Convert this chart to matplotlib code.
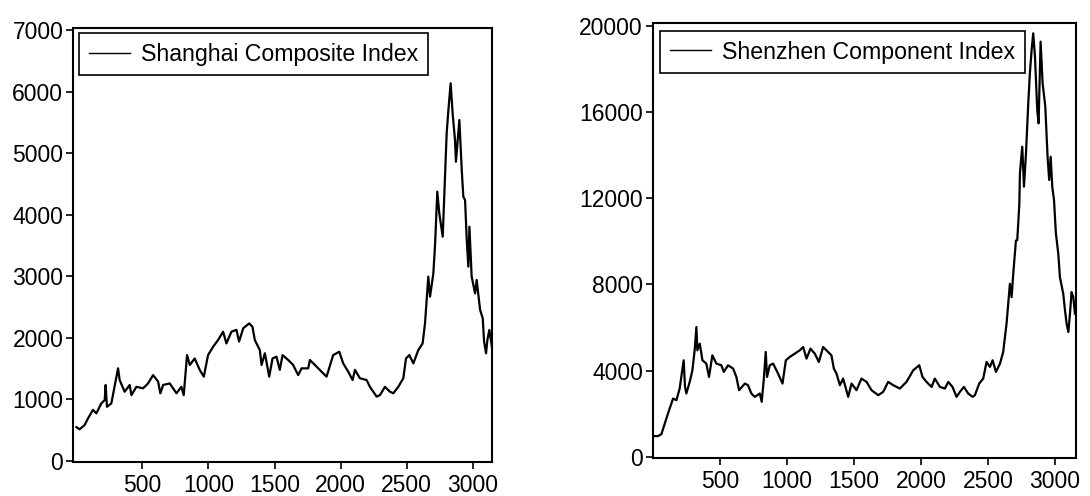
import matplotlib
matplotlib.use("Agg")
import matplotlib.pyplot as plt

plt.rcParams['font.family'] = ['Liberation Sans', 'DejaVu Sans']

# Shanghai Composite Index (observation number, index level)
sh_obs = [1, 25, 63, 88, 126, 152, 189, 215, 222, 232, 265, 316, 328, 366, 404, 417,
          455, 505, 543, 581, 619, 636, 657, 707, 758, 795, 813, 838, 859, 896, 934,
          965, 997, 1035, 1073, 1111, 1136, 1174, 1212, 1232, 1263, 1308, 1333, 1351,
          1389, 1402, 1427, 1460, 1485, 1515, 1540, 1561, 1604, 1641, 1679, 1705, 1755,
          1768, 1806, 1856, 1894, 1944, 1990, 2020, 2058, 2091, 2109, 2146, 2197, 2222,
          2273, 2298, 2336, 2374, 2399, 2437, 2475, 2495, 2520, 2551, 2588, 2621, 2639,
          2664, 2677, 2702, 2715, 2732, 2747, 2773, 2803, 2816, 2833, 2848, 2866, 2873,
          2899, 2917, 2929, 2942, 2955, 2967, 2975, 2992, 3018, 3030, 3056, 3076, 3086,
          3101, 3111, 3126, 3145]
sh_val = [550, 515, 585, 690, 830, 775, 935, 990, 1235, 880, 935, 1505, 1315, 1125, 1235, 1070,
          1205, 1180, 1260, 1395, 1290, 1100, 1235, 1260, 1100, 1205, 1070, 1720, 1560, 1665, 1480,
          1370, 1720, 1855, 1965, 2100, 1910, 2100, 2130, 1940, 2155, 2235, 2180, 1965,
          1800, 1560, 1750, 1370, 1665, 1695, 1480, 1720, 1640, 1560, 1395, 1505, 1505,
          1640, 1560, 1450, 1370, 1720, 1775, 1585, 1450, 1315, 1480, 1345, 1315, 1205,
          1045, 1070, 1205, 1125, 1100, 1205, 1345, 1665, 1720, 1585, 1800, 1910, 2235,
          2995, 2670, 3045, 3508, 4374, 4025, 3643, 5327, 5700, 6134, 5647, 5213, 4861,
          5538, 4726, 4292, 4239, 3590, 3156, 3805, 2995, 2723, 2940, 2453, 2317, 1938,
          1749, 1965, 2128, 1857]

# Shenzhen Component Index (observation number, index level)
sz_obs = [10, 40, 65, 90, 114, 139, 152, 177, 201, 231, 241, 251, 276, 296, 313, 326,
          333, 351, 371, 400, 420, 445, 475, 512, 530, 562, 600, 624, 644, 687, 711, 736,
          761, 799, 813, 828, 843, 853, 873, 898, 935, 968, 993, 1022, 1060, 1097, 1122,
          1147, 1177, 1209, 1239, 1271, 1296, 1333, 1351, 1371, 1396, 1420, 1458, 1483,
          1520, 1557, 1595, 1632, 1682, 1719, 1756, 1794, 1843, 1893, 1943, 1988, 2012,
          2042, 2080, 2104, 2142, 2179, 2204, 2236, 2266, 2291, 2321, 2353, 2386, 2403,
          2435, 2465, 2490, 2515, 2535, 2560, 2590, 2614, 2639, 2664, 2677, 2689, 2709,
          2719, 2734, 2739, 2756, 2769, 2784, 2801, 2813, 2826, 2838, 2851, 2868, 2878,
          2888, 2893, 2908, 2928, 2945, 2957, 2968, 2980, 2993, 3007, 3025, 3037, 3062,
          3075, 3087, 3100, 3112, 3124, 3137, 3149]
sz_val = [957, 957, 1050, 1544, 2007, 2470, 2702, 2625, 3165, 4478, 3242, 2934, 3474, 4014, 4941, 6022,
          4941, 5250, 4478, 4323, 3706, 4709, 4323, 4246, 3937, 4246, 4092, 3706, 3088, 3397, 3320, 2934,
          2779, 2934, 2548, 3551, 4864, 3706, 4246, 4323, 3860, 3397, 4478, 4632, 4786, 4941, 5095,
          4555, 5018, 4786, 4400, 5095, 4941, 4709, 4092, 3860, 3320, 3628, 2779, 3397,
          3088, 3628, 3474, 3088, 2856, 3011, 3474, 3320, 3165, 3474, 4014, 4246, 3706,
          3474, 3242, 3628, 3242, 3165, 3474, 3242, 2779, 3011, 3242, 2934, 2779, 2856,
          3397, 3628, 4400, 4169, 4478, 3937, 4323, 4864, 6176, 8029, 7411, 8492, 10036,
          10063, 11690, 13175, 14397, 12539, 14091, 16412, 17805, 18886, 19662, 18576, 16100, 15482,
          18112, 19275, 17340, 16256, 13930, 12850, 13930, 12540, 11921, 10374, 9418, 8338, 7566,
          6794, 6176, 5790, 6639, 7643, 7411, 6639]

sh_label = "Shanghai Composite Index"
sz_label = "Shenzhen Component Index"
sh_yticks = [0, 1000, 2000, 3000, 4000, 5000, 6000, 7000]
sz_yticks = [0, 4000, 8000, 12000, 16000, 20000]
xticks = [500, 1000, 1500, 2000, 2500, 3000]

fig = plt.figure(figsize=(10.9, 4.96), dpi=100)
ax1 = fig.add_axes([73/1090, 1-462/496, (492-73)/1090, (462-28)/496])
ax2 = fig.add_axes([652.7/1090, 1-458/496, (1076-652.7)/1090, (458-23)/496])

def style(ax, obs, val, label, yticks, xlim, ylim, leg_anchor):
    ax.plot(obs, val, color='black', linewidth=1.6, label=label)
    ax.set_xlim(*xlim)
    ax.set_ylim(*ylim)
    ax.set_yticks(yticks)
    ax.set_xticks(xticks)
    ax.tick_params(axis='both', direction='out', length=5, width=1.2, labelsize=16.5,
                   pad=2, colors='black')
    ax.tick_params(axis='x', pad=4)
    for s in ax.spines.values():
        s.set_linewidth(1.5)
        s.set_color('black')
    leg = ax.legend(loc='upper left', bbox_to_anchor=leg_anchor, borderaxespad=0,
                    fancybox=False, edgecolor='black', framealpha=1, fontsize=16.7,
                    handlelength=1.8, handletextpad=0.45, borderpad=0.42)
    leg.get_frame().set_linewidth(1.2)
    for h in leg.get_lines():
        h.set_linewidth(1.0)

style(ax1, sh_obs, sh_val, sh_label, sh_yticks, (-25, 3146), (-16, 7032), (0.0143, 0.9885))
style(ax2, sz_obs, sz_val, sz_label, sz_yticks, (0, 3157), (-60, 20140), (0.0172, 0.982))

fig.savefig("out.png", dpi=100)
